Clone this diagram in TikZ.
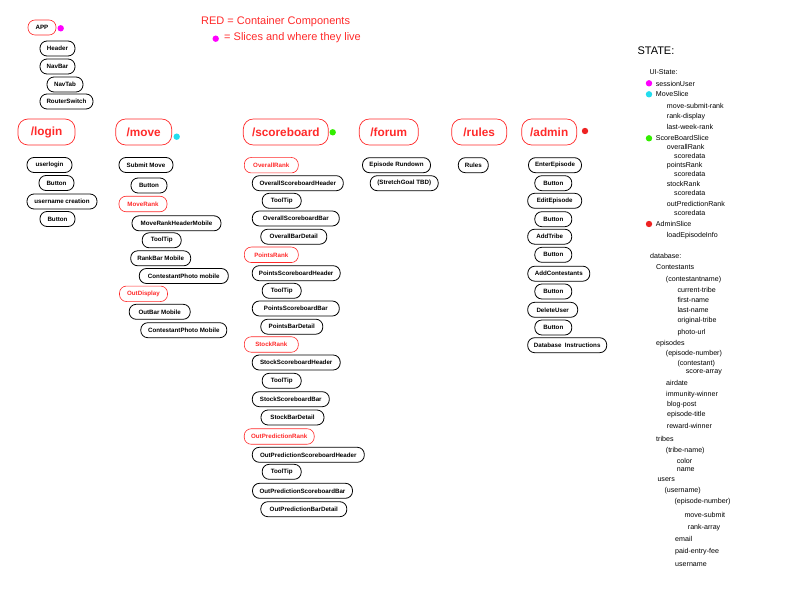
\documentclass[tikz,border=0pt]{standalone}
\usepackage{fontspec}
\setmainfont{Liberation Sans}
\definecolor{cred}{HTML}{FF2A2A}
\definecolor{cmag}{HTML}{FF00FF}
\definecolor{ccyan}{HTML}{22DDEE}
\definecolor{cgreen}{HTML}{33EE00}
\definecolor{cdot}{HTML}{EE2222}
\begin{document}
\begin{tikzpicture}[x=1pt,y=-1pt,
  comp/.style={draw=black, line width=0.8pt, rounded corners=7pt, minimum height=15pt, inner sep=0pt, font=\fontsize{6.2}{7}\selectfont\bfseries, text=black},
  ctr/.style={comp, draw=cred, line width=0.6pt, text=cred, minimum height=15.5pt},
  route/.style={draw=cred, line width=0.7pt, rounded corners=10pt, minimum height=26pt, inner sep=0pt, font=\fontsize{11.8}{14}\selectfont\bfseries, text=cred},
  slicedot/.style={circle, inner sep=0pt, minimum size=6.4pt},
  st/.style={anchor=west, inner sep=0pt, font=\fontsize{7.1}{8}\selectfont}
]
\useasboundingbox (0,0) rectangle (792,612);
% legend
\node[anchor=west, inner sep=0pt, text=cred, font=\fontsize{11}{13}\selectfont] (leg1) at (201,21.5) {RED = Container Components};
\node[slicedot, fill=cmag] (legdot) at (215.7,38.7) {};
\node[anchor=west, inner sep=0pt, text=cred, font=\fontsize{11}{13}\selectfont] (leg2) at (224,38) {= Slices and where they live};
% app
\node[comp, draw=cred, line width=0.6pt, minimum width=28pt] (app) at (42,27.5) {APP};
\node[slicedot, fill=cmag] (appdot) at (60.7,28.3) {};
\node[comp, minimum width=35pt] (header) at (57.5,48.5) {Header};
\node[comp, minimum width=35pt] (navbar) at (57.5,66.5) {NavBar};
\node[comp, minimum width=36pt] (navtab) at (65,84.5) {NavTab};
\node[comp, minimum width=53pt] (router) at (66.5,101.5) {RouterSwitch};
% routes
\node[route, minimum width=57pt] (login) at (46.5,132) {/login};
\node[route, minimum width=56pt] (move) at (143.7,132) {/move};
\node[slicedot, fill=ccyan] (movedot) at (176.7,136.7) {};
\node[route, minimum width=85pt] (scoreboard) at (285.8,132) {/scoreboard};
\node[slicedot, fill=cgreen] (scoredot) at (332.7,132.3) {};
\node[route, minimum width=59pt] (forum) at (388.8,132) {/forum};
\node[route, minimum width=55pt] (rules) at (479.2,132) {/rules};
\node[route, minimum width=55pt] (admin) at (549.2,132) {/admin};
\node[slicedot, fill=cdot] (admindot) at (585,131) {};
% login column
\node[comp, minimum width=45pt] (userlogin) at (49.5,165) {userlogin};
\node[comp, minimum width=35pt] (lbtn1) at (56.5,183) {Button};
\node[comp, minimum width=70pt] (ucreate) at (62,201.5) {username creation};
\node[comp, minimum width=35pt] (lbtn2) at (57.5,219) {Button};
% move column
\node[comp, minimum width=54pt] (submit) at (146,165) {Submit Move};
\node[comp, minimum width=36pt] (mbtn) at (149,185.5) {Button};
\node[ctr, minimum width=48pt] (moverank) at (143,204) {MoveRank};
\node[comp, minimum width=89pt] (mrhm) at (176.5,223.3) {MoveRankHeaderMobile};
\node[comp, minimum width=39pt] (mtip) at (161.7,240.3) {ToolTip};
\node[comp, minimum width=60pt] (rbm) at (160.7,258.3) {RankBar Mobile};
\node[comp, minimum width=89pt] (cpm1) at (183.8,276) {ContestantPhoto mobile};
\node[ctr, minimum width=48pt] (outdisp) at (143.5,293.8) {OutDisplay};
\node[comp, minimum width=61pt] (obm) at (159.7,311.8) {OutBar Mobile};
\node[comp, minimum width=86pt] (cpm2) at (183.8,330.2) {ContestantPhoto Mobile};
% scoreboard column
\node[ctr, minimum width=54pt] (overall) at (271.3,165.2) {OverallRank};
\node[comp, minimum width=91pt] (osh) at (297.8,183.2) {OverallScoreboardHeader};
\node[comp, minimum width=39pt] (otip) at (281.7,200.8) {ToolTip};
\node[comp, minimum width=87pt] (osb) at (295.8,218.5) {OverallScoreboardBar};
\node[comp, minimum width=66pt] (obd) at (293.8,236.7) {OverallBarDetail};
\node[ctr, minimum width=54pt] (points) at (271.3,254.8) {PointsRank};
\node[comp, minimum width=88pt] (psh) at (296.2,273.2) {PointsScoreboardHeader};
\node[comp, minimum width=39pt] (ptip) at (281.7,290.8) {ToolTip};
\node[comp, minimum width=87pt] (psb) at (295.8,308.5) {PointsScoreboardBar};
\node[comp, minimum width=62pt] (pbd) at (291.8,326.7) {PointsBarDetail};
\node[ctr, minimum width=54pt] (stock) at (271.3,344.5) {StockRank};
\node[comp, minimum width=88pt] (ssh) at (296.2,362.5) {StockScoreboardHeader};
\node[comp, minimum width=39pt] (stip) at (281.7,380.8) {ToolTip};
\node[comp, minimum width=77pt] (ssb) at (290.8,399.2) {StockScoreboardBar};
\node[comp, minimum width=63pt] (sbd) at (292.5,417.5) {StockBarDetail};
\node[ctr, minimum width=70pt] (outpred) at (279.2,436.5) {OutPredictionRank};
\node[comp, minimum width=112pt] (oph) at (308.3,454.8) {OutPredictionScoreboardHeader};
\node[comp, minimum width=39pt] (optip) at (281.7,471.8) {ToolTip};
\node[comp, minimum width=100pt] (opb) at (302.5,490.8) {OutPredictionScoreboardBar};
\node[comp, minimum width=86pt] (opd) at (303.8,509.2) {OutPredictionBarDetail};
% forum / rules
\node[comp, minimum width=68pt] (rundown) at (396.5,165.2) {Episode Rundown};
\node[comp, minimum width=68pt] (stretch) at (404.2,183.2) {(StretchGoal TBD)};
\node[comp, minimum width=30pt] (rulesc) at (473.3,165.2) {Rules};
% admin column
\node[comp, minimum width=53pt] (enter) at (555,165.2) {EnterEpisode};
\node[comp, minimum width=37pt] (abtn1) at (553.3,183.2) {Button};
\node[comp, minimum width=54pt] (edit) at (554.7,200.8) {EditEpisode};
\node[comp, minimum width=37pt] (abtn2) at (553.3,219.2) {Button};
\node[comp, minimum width=44pt] (tribe) at (549.7,236.7) {AddTribe};
\node[comp, minimum width=37pt] (abtn3) at (553.3,254.8) {Button};
\node[comp, minimum width=62pt] (contest) at (558.8,273.7) {AddContestants};
\node[comp, minimum width=37pt] (abtn4) at (553.3,291.5) {Button};
\node[comp, minimum width=50pt] (deluser) at (552.7,309.8) {DeleteUser};
\node[comp, minimum width=37pt] (abtn5) at (553.3,327.5) {Button};
\node[comp, minimum width=79pt] (dbinst) at (567.2,345.2) {Database~~Instructions};
% state
\node[anchor=west, inner sep=0pt, font=\fontsize{11}{12}\selectfont] (state) at (637.3,50.7) {STATE:};
\node[st] (ui) at (649.3,72.3) {UI-State:};
\node[slicedot, fill=cmag] (d1) at (649,83.3) {};
\node[st] (s1) at (655.7,83.5) {sessionUser};
\node[slicedot, fill=ccyan] (d2) at (649,94.3) {};
\node[st] (s2) at (655.7,94.3) {MoveSlice};
\node[st] (s3) at (666.7,105.7) {move-submit-rank};
\node[st] (s4) at (666.7,116.3) {rank-display};
\node[st] (s5) at (666.7,126.7) {last-week-rank};
\node[slicedot, fill=cgreen] (d3) at (649,138.3) {};
\node[st] (s6) at (655.7,138.3) {ScoreBoardSlice};
\node[st] (s7) at (666.7,147.3) {overallRank};
\node[st] (s8) at (674,155.7) {scoredata};
\node[st] (s9) at (666.7,166) {pointsRank};
\node[st] (s10) at (674,174) {scoredata};
\node[st] (s11) at (666.7,184.3) {stockRank};
\node[st] (s12) at (674,193.3) {scoredata};
\node[st] (s13) at (666.7,204) {outPredictionRank};
\node[st] (s14) at (674,213.3) {scoredata};
\node[slicedot, fill=cdot] (d4) at (649,224) {};
\node[st] (s15) at (655.7,224) {AdminSlice};
\node[st] (s16) at (666.7,236) {loadEpisodeInfo};
% database
\node[st] (b1) at (650,255.7) {database:};
\node[st] (b2) at (656,267.3) {Contestants};
\node[st] (b3) at (665.7,279.3) {(contestantname)};
\node[st] (b4) at (677.3,290) {current-tribe};
\node[st] (b5) at (677.3,300) {first-name};
\node[st] (b6) at (677.3,310.3) {last-name};
\node[st] (b7) at (677.3,320.3) {original-tribe};
\node[st] (b8) at (677.3,332.7) {photo-url};
\node[st] (b9) at (656,343.3) {episodes};
\node[st] (b10) at (665.7,354) {(episode-number)};
\node[st] (b11) at (677.3,364) {(contestant)};
\node[st] (b12) at (685.7,372.7) {score-array};
\node[st] (b13) at (666,382.7) {airdate};
\node[st] (b14) at (666,394.7) {immunity-winner};
\node[st] (b15) at (667,404.3) {blog-post};
\node[st] (b16) at (667,414.7) {episode-title};
\node[st] (b17) at (666.7,426.3) {reward-winner};
\node[st] (b18) at (656,438.7) {tribes};
\node[st] (b19) at (665.7,451) {(tribe-name)};
\node[st] (b20) at (676.7,460.7) {color};
\node[st] (b21) at (676.7,470) {name};
\node[st] (b22) at (657.3,480) {users};
\node[st] (b23) at (664.3,490.7) {(username)};
\node[st] (b24) at (674.3,501.3) {(episode-number)};
\node[st] (b25) at (684.3,514.7) {move-submit};
\node[st] (b26) at (687.7,527.3) {rank-array};
\node[st] (b27) at (675,538.7) {email};
\node[st] (b28) at (675,552) {paid-entry-fee};
\node[st] (b29) at (675,565) {username};
\end{tikzpicture}
\end{document}
